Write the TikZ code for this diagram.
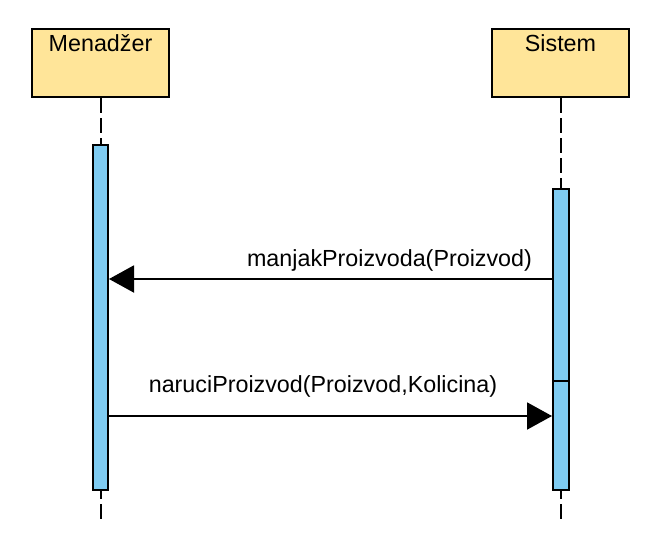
\documentclass[tikz,border=0pt]{standalone}
\usepackage{fontspec}
\setmainfont{Liberation Sans}
\usetikzlibrary{arrows.meta}
\definecolor{hdrfill}{RGB}{255,229,153}
\definecolor{barfill}{RGB}{127,204,242}
\begin{document}
\begin{tikzpicture}[x=1pt,y=-1pt,
  hdr/.style={draw=black, line width=2pt, fill=hdrfill, rectangle, minimum width=137pt, minimum height=68pt, inner sep=0pt},
  bar/.style={draw=black, line width=2pt, fill=barfill, rectangle, minimum width=15pt, inner sep=0pt},
  life/.style={draw=black, line width=2pt, dash pattern=on 15pt off 5pt},
  msg/.style={draw=black, line width=2pt, -{Triangle[length=25pt,width=27pt]}},
  txt/.style={font=\fontsize{23.3}{28}\selectfont, inner sep=0pt, anchor=base}
]
\useasboundingbox (0,0) rectangle (661,536);
% headers
\node[hdr] (m) at (100.5,63) {};
\node[hdr] (s) at (560.5,63) {};
\node[txt] (mt) at (100.5,51) {Menadžer};
\node[txt] (st) at (560.5,51) {Sistem};
% activation bars
\node[bar, minimum height=345pt] (mb) at (100.5,317.5) {};
\node[bar, minimum height=301pt, minimum width=16pt] (sb) at (561,339.5) {};
\node[bar, minimum height=109pt, minimum width=16pt] (sb2) at (561,435.5) {};
% lifelines
\coordinate (mend) at (100.5,520);
\coordinate (send) at (561,520);
\draw[life] (m.south) -- (mb.north);
\draw[life] (s.south -| sb.north) -- (sb.north);
\draw[life, dash phase=7pt] (mb.south) -- (mend);
\draw[life, dash phase=7pt] (sb2.south) -- (send);
% messages
\coordinate (y1) at (0,279);
\coordinate (y2) at (0,416);
\draw[msg] (sb.west |- y1) -- (mb.east |- y1);
\draw[msg] (mb.east |- y2) -- (sb2.west |- y2);
\node[txt] (l1) at (389.5,266) {manjakProizvoda(Proizvod)};
\node[txt] (l2) at (323,392) {naruciProizvod(Proizvod,Kolicina)};
\end{tikzpicture}
\end{document}
